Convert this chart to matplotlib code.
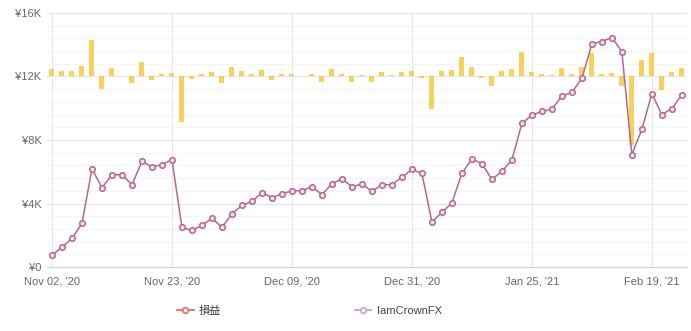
import numpy as np
import matplotlib.pyplot as plt
from matplotlib.lines import Line2D
from matplotlib.ticker import FuncFormatter, MultipleLocator

plt.rcParams['font.family'] = ['Liberation Sans', 'Noto Sans CJK JP', 'DejaVu Sans']

# cumulative balance (yen) per trading day
balance = [750, 1250, 1810, 2750, 6190, 5000, 5810, 5810, 5190, 6650, 6310, 6440, 6770, 2500, 2310, 2630,
           3080, 2500, 3350, 3880, 4130, 4690, 4380, 4600, 4810, 4810, 5060, 4560, 5250, 5560, 5060, 5230,
           4770, 5190, 5190, 5650, 6150, 5900, 2850, 3440, 4040, 5900, 6800, 6520, 5520, 6020, 6750, 9040,
           9570, 9800, 9930, 10770, 11000, 11880, 14050, 14200, 14450, 13570, 7080, 8670, 10920, 9600, 9980, 10850]

# daily profit / loss (yen)
pnl = [720, 540, 540, 1000, 3460, -1170, 820, 0, -600, 1390, -310, 190, 350, -4280, -250, 250,
       410, -600, 910, 500, 250, 600, -310, 250, 250, 0, 220, -540, 720, 250, -500, 160,
       -480, 410, 100, 410, 500, -190, -3050, 500, 600, 1860, 910, -190, -940, 500, 690, 2300,
       440, 220, 160, 820, 250, 910, 2200, 190, 350, -880, -6430, 1570, 2240, -1260, 410, 820]

tick_labels = ["Nov 02, '20", "Nov 23, '20", "Dec 09, '20", "Dec 31, '20", "Jan 25, '21", "Feb 19, '21"]
tick_step = 12

x = np.arange(len(balance))

fig = plt.figure(figsize=(6.91, 3.31), dpi=100)
ax = fig.add_axes([0.068, 0.193, 0.926, 0.768])
ax.set_xlim(-0.5, len(x) - 0.5)
ax.set_ylim(0, 16000)

ax.yaxis.set_major_locator(MultipleLocator(4000))
ax.yaxis.set_minor_locator(MultipleLocator(800))
ax.yaxis.set_major_formatter(FuncFormatter(lambda v, p: '¥0' if v == 0 else f'¥{int(v / 1000)}K'))
ax.set_xticks(np.arange(0, len(x), tick_step)[:len(tick_labels)])
ax.set_xticklabels(tick_labels)

ax.grid(axis='y', which='major', color='#e4e4e4', lw=0.8)
ax.grid(axis='y', which='minor', color='#f4f4f4', lw=0.8)
ax.grid(axis='x', which='major', color='#e3e6ec', lw=0.8)
ax.set_axisbelow(True)

for s in ['top', 'right', 'left']:
    ax.spines[s].set_visible(False)
ax.spines['bottom'].set_color('#ccd4e0')
ax.tick_params(axis='both', which='both', length=0, labelsize=8, labelcolor='#666666')
ax.tick_params(axis='x', pad=7)
ax.tick_params(axis='y', pad=4)

# profit bars on a twin axis over the grid, zero sitting at the 12K line
axb = ax.twinx()
axb.set_xlim(ax.get_xlim())
axb.set_ylim(-18000, 6000)
axb.bar(x, pnl, width=0.5, color='#f8cb4c', alpha=0.9, zorder=1)
# balance line goes on top of the bars, using the main axis scale
axb.plot(x, balance, transform=ax.transData, color='#b5678f', lw=1.1, marker='o', ms=4,
         mfc='#f6e0ea', mec='#b5678f', mew=1.1, zorder=3)
axb.set_ylim(-18000, 6000)
axb.axis('off')

handles = [
    Line2D([], [], color='#e46a6a', lw=1.3, marker='o', ms=4, mfc='white', mec='#e46a6a', mew=1.2),
    Line2D([], [], color='#c8a2cc', lw=1.3, marker='o', ms=4, mfc='white', mec='#c8a2cc', mew=1.2),
]
fig.legend(handles, ['損益', 'IamCrownFX'], loc='center left', bbox_to_anchor=(0.248, 0.06),
           ncol=2, frameon=False, fontsize=8, handlelength=1.5, handletextpad=0.5,
           columnspacing=12.0, borderpad=0, labelcolor='#444444')

fig.savefig('out.png', dpi=100)
